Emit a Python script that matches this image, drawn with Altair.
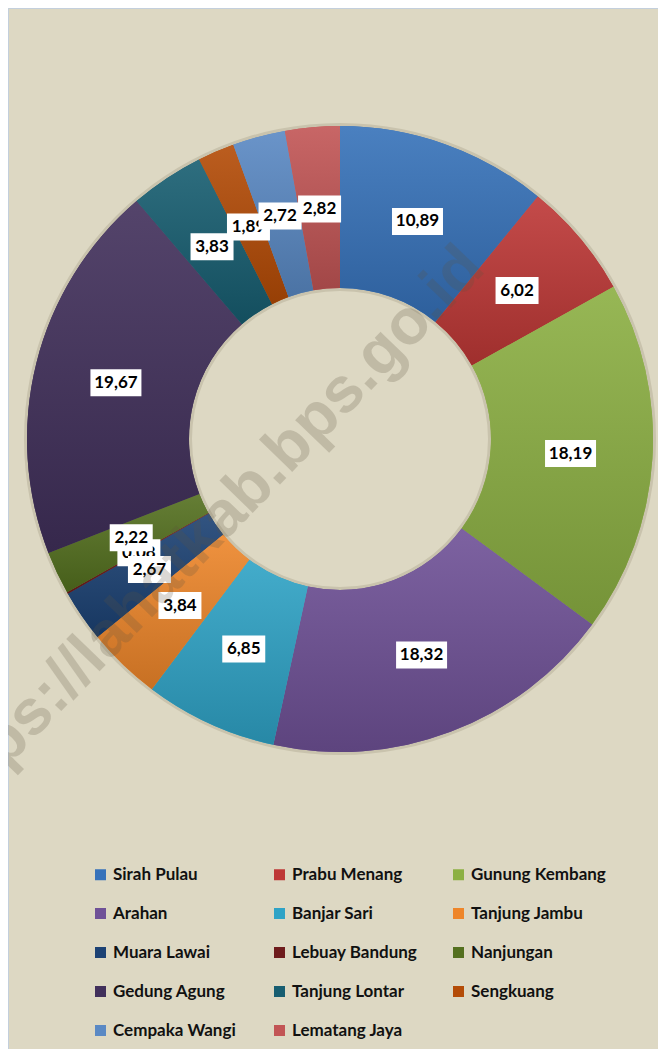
import altair as alt
import pandas as pd

names = ["Sirah Pulau", "Prabu Menang", "Gunung Kembang", "Arahan", "Banjar Sari",
         "Tanjung Jambu", "Muara Lawai", "Lebuay Bandung", "Nanjungan", "Gedung Agung",
         "Tanjung Lontar", "Sengkuang", "Cempaka Wangi", "Lematang Jaya"]
values = [10.89, 6.02, 18.19, 18.32, 6.85, 3.84, 2.67, 0.08, 2.22, 19.67, 3.83, 1.89, 2.72, 2.82]
colors = ["#3672ba", "#be3836", "#8cb043", "#6f5197", "#2fa3c6", "#ee862a", "#1c4274",
          "#6e1c1c", "#54701f", "#41305b", "#175e71", "#b44c07", "#5a89c4", "#c25555"]
labels = [f"{v:.2f}".replace(".", ",") for v in values]
under = ["Lebuay Bandung", "Sengkuang"]

df = pd.DataFrame({"name": names, "value": values, "label": labels,
                   "idx": list(range(len(names)))})

W, H = 650, 1041
CX, CY = 332, 431
R_OUT, R_IN = 313, 151
R_LAB = 231
FONT = "Lato"


def shade(hexcol, f):
    r, g, b = (int(hexcol[i:i + 2], 16) for i in (1, 3, 5))
    if f >= 1:
        r, g, b = (min(255, int(c + (255 - c) * (f - 1))) for c in (r, g, b))
    else:
        r, g, b = (int(c * f) for c in (r, g, b))
    return f"#{r:02x}{g:02x}{b:02x}"


base = alt.Chart(df)

shadow = alt.Chart(pd.DataFrame({"a": [0]})).mark_arc(
    theta=0, theta2=6.2832, outerRadius=R_OUT + 3, innerRadius=R_IN - 3,
    color="#c9c3ad"
).encode(x=alt.value(CX), y=alt.value(CY))

arcs = base.mark_arc(outerRadius=R_OUT, innerRadius=R_IN).encode(
    theta=alt.Theta("value:Q", stack=True),
    order=alt.Order("idx:Q"),
    color=alt.Color("name:N", scale=alt.Scale(domain=names, range=colors),
                    legend=alt.Legend(
                        title=None, orient="none", legendX=84, legendY=858,
                        direction="horizontal", columns=3, gridAlign="all",
                        columnPadding=23, rowPadding=21,
                        symbolType="square", symbolSize=121, symbolStrokeWidth=0,
                        labelFont=FONT, labelFontSize=17, labelFontWeight="bold",
                        labelColor="#111111", labelOffset=4, labelLimit=220)),
    x=alt.value(CX), y=alt.value(CY),
)

angles = base.transform_joinaggregate(total="sum(value)").transform_window(
    cum="sum(value)", sort=[alt.SortField("idx")], frame=[None, 0]
).transform_calculate(
    t0="(datum.cum - datum.value) / datum.total * 2 * PI",
    t1="datum.cum / datum.total * 2 * PI",
    ang="(datum.cum - datum.value/2) / datum.total * 2 * PI",
)

grad_layers = []
for n, c in zip(names, colors):
    g = alt.LinearGradient(
        gradient="linear", x1=0, x2=0, y1=0, y2=1,
        stops=[alt.GradientStop(color=shade(c, 1.10), offset=0),
               alt.GradientStop(color=shade(c, 0.84), offset=1)])
    grad_layers.append(
        angles.transform_filter(alt.datum.name == n).mark_arc(
            outerRadius=R_OUT, innerRadius=R_IN, color=g
        ).encode(theta=alt.Theta("t0:Q", scale=None), theta2="t1:Q",
                 x=alt.value(CX), y=alt.value(CY))
    )

pos = angles.transform_calculate(
    px=f"{CX} + {R_LAB} * sin(datum.ang)",
    py=f"{CY} - {R_LAB} * cos(datum.ang)",
    bw="8 * length(datum.label) + 11",
    x0="datum.px - datum.bw/2", x1="datum.px + datum.bw/2",
    y0="datum.py - 13.5", y1="datum.py + 13.5",
)


def label_layer(src):
    box = src.mark_rect(color="white").encode(
        x=alt.X("x0:Q", scale=None), x2="x1:Q",
        y=alt.Y("y0:Q", scale=None), y2="y1:Q")
    txt = src.mark_text(font=FONT, fontSize=17, fontWeight="bold", color="black",
                        baseline="middle", align="center").encode(
        x=alt.X("px:Q", scale=None), y=alt.Y("py:Q", scale=None), text="label:N")
    return box + txt


low = pos.transform_filter(alt.FieldOneOfPredicate(field="name", oneOf=under))
high = pos.transform_filter(~alt.FieldOneOfPredicate(field="name", oneOf=under))

watermark = alt.Chart(pd.DataFrame({"t": ["https://lahatkab.bps.go.id"]})).mark_text(
    font="Liberation Sans", fontSize=64, fontWeight="bold", angle=314,
    color="#5e5440", opacity=0.22, align="center", baseline="middle"
).encode(x=alt.value(196), y=alt.value(528), text="t:N")

chart = alt.layer(shadow, arcs, *grad_layers, label_layer(low), label_layer(high),
                  watermark).properties(
    width=W, height=H, padding=0, autosize=alt.AutoSizeParams(type="none"),
    background="#ddd8c3"
).configure_view(stroke="#c3cfdc", strokeWidth=1)

chart.save("out.html", embed_options={"renderer": "svg", "actions": False})
